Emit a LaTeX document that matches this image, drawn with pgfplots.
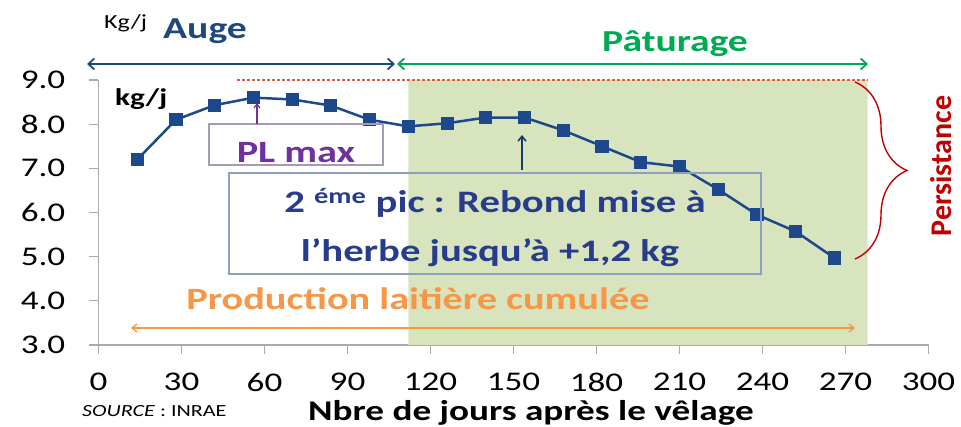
\documentclass[border=0pt]{standalone}
\usepackage{pgfplots}
\pgfplotsset{compat=1.18}
\usepackage{fontspec}
\setmainfont{Carlito}[FakeStretch=1.3]
\newfontfamily\plainfont{Carlito}
\usetikzlibrary{arrows.meta,decorations.pathreplacing}
\definecolor{blueA}{RGB}{31,73,125}
\definecolor{lineblue}{RGB}{30,72,140}
\definecolor{greenP}{RGB}{0,170,80}
\definecolor{pastgreen}{RGB}{215,228,189}
\definecolor{axisgray}{RGB}{170,170,175}
\definecolor{plpurple}{RGB}{112,48,160}
\definecolor{boxgray}{RGB}{165,155,185}
\definecolor{boxblue}{RGB}{140,160,190}
\definecolor{txtblue}{RGB}{40,60,140}
\definecolor{orangeP}{RGB}{247,150,70}
\definecolor{redP}{RGB}{192,0,0}
\definecolor{dashred}{RGB}{220,90,70}
\begin{document}
\begin{tikzpicture}[x=1pt,y=1pt]
\path[use as bounding box] (0,0) rectangle (961,427);
\begin{axis}[
  at={(98.5pt,82pt)}, anchor=south west, scale only axis,
  width=830pt, height=265pt,
  xmin=0, xmax=300, ymin=3, ymax=9,
  axis x line=bottom, axis y line=left,
  axis line style={-, draw=axisgray, line width=1.2pt},
  xtick={0,30,...,300}, ytick={3,4,...,9},
  tick align=outside, major tick length=9pt,
  tick style={axisgray, line width=1.2pt},
  /pgf/number format/assume math mode=true,
  ticklabel style={font=\fontsize{27}{27}\selectfont, inner sep=0pt, text=black},
  yticklabel style={anchor=east, xshift=-24pt, /pgf/number format/.cd, fixed, fixed zerofill, precision=1},
  xticklabel style={anchor=north, yshift=-19pt},
  clip=false,
]
\addplot[fill=pastgreen, draw=none] coordinates {(112,3) (112,9) (278,9) (278,3)} \closedcycle;
\addplot[dashred, dash pattern=on 3pt off 2pt, line width=1.1pt] coordinates {(50,9) (278,9)};
\addplot[lineblue, line width=2.5pt, mark=square*, mark size=5.3pt] coordinates {
(14,7.20) (28,8.10) (42,8.43) (56,8.60) (70,8.56) (84,8.42) (98,8.10)
(112,7.95) (126,8.02) (140,8.15) (154,8.15) (168,7.86) (182,7.50)
(196,7.14) (210,7.04) (224,6.52) (238,5.95) (252,5.57) (266,4.97)};
\end{axis}
\begin{scope}[shift={(0,427)}, y=-1pt]
\node[anchor=base west, inner sep=0pt, font=\fontsize{20}{20}\selectfont] at (104,29) {Kg/j};
\node[anchor=base west, inner sep=0pt, text=blueA, font=\fontsize{30.5}{30.5}\selectfont\bfseries] at (163,39) {Auge};
\node[anchor=base west, inner sep=0pt, text=greenP, font=\fontsize{30.5}{30.5}\selectfont\bfseries] at (602,52) {Pâturage};
\draw[blueA, line width=1.8pt, {Straight Barb[length=6pt,width=11pt]}-{Straight Barb[length=6pt,width=11pt]}] (87,64) -- (395,64);
\draw[greenP, line width=1.8pt, {Straight Barb[length=6pt,width=11pt]}-{Straight Barb[length=6pt,width=11pt]}] (397,64) -- (868,64);
\node[anchor=base west, inner sep=0pt, font=\fontsize{24}{24}\selectfont\bfseries] at (115,106) {kg/j};
\draw[boxgray, line width=1.2pt] (209,124) rectangle (383,165);
\node[anchor=base, inner sep=0pt, text=plpurple, font=\fontsize{31}{31}\selectfont\bfseries] at (296,163) {PL max};
\draw[plpurple, line width=1.2pt, -{Straight Barb[length=4pt,width=6pt]}] (257,124) -- (257,103);
\draw[boxblue, line width=1.5pt] (229,173) rectangle (761,274);
\node[anchor=base, inner sep=0pt, text=txtblue, font=\fontsize{31.3}{31.3}\selectfont\bfseries] at (495,213) {2 \textsuperscript{éme} pic : Rebond mise à};
\node[anchor=base, inner sep=0pt, text=txtblue, font=\fontsize{31.3}{31.3}\selectfont\bfseries] at (490,262) {l’herbe jusqu’à +1,2 kg};
\draw[blueA!80!black, line width=1.5pt, -{Straight Barb[length=5pt,width=8pt]}] (522,170) -- (522,135);
\node[anchor=base, inner sep=0pt, text=orangeP, font=\fontsize{31}{31}\selectfont\bfseries] at (418,310) {Production laitière cumulée};
\draw[orangeP, line width=1.3pt, {Straight Barb[length=5pt,width=8pt]}-{Straight Barb[length=5pt,width=8pt]}] (131,328) -- (855,328);
\draw[redP, line width=1.4pt, decorate, decoration={brace, amplitude=52pt}] (855,82) -- (855,259);
\node[rotate=90, inner sep=0pt, text=redP, font=\plainfont\fontsize{30}{30}\selectfont\bfseries] at (941,166) {Persistance};
\node[anchor=base west, inner sep=0pt, font=\fontsize{17}{17}\selectfont] at (82,417) {\textit{SOURCE} : INRAE};
\node[anchor=base, inner sep=0pt, font=\fontsize{28.6}{28.6}\selectfont\bfseries] at (531,421) {Nbre de jours après le vêlage};
\end{scope}
\end{tikzpicture}
\end{document}
